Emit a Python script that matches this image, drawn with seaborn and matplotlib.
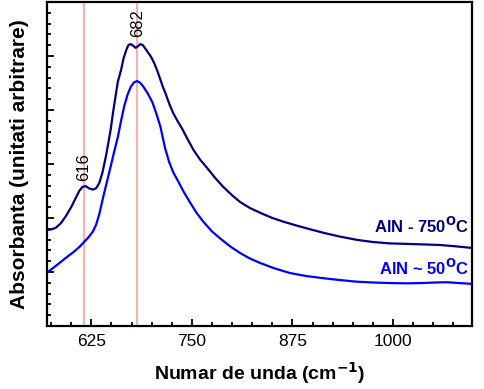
import numpy as np
import pandas as pd
import matplotlib
matplotlib.use("Agg")
import matplotlib.pyplot as plt
from matplotlib.ticker import MultipleLocator, AutoMinorLocator, NullFormatter
import seaborn as sns

# AlN annealed at 750 C (arbitrary units)
wn_750 = [571, 576, 581, 587, 593, 600, 605, 610, 614, 618, 622, 627, 631, 635,
          639, 643, 646, 649, 652, 655, 658, 662, 665, 668, 671, 674, 677, 680,
          683, 686, 689, 692, 695, 699, 703, 707, 711, 714, 717, 722, 727, 732,
          738, 745, 752, 760, 769, 779, 789, 800, 810, 822, 835, 850, 864, 880,
          897, 915, 934, 955, 975, 995, 1017, 1038, 1058, 1078, 1098]
abs_750 = [0.356, 0.358, 0.364, 0.380, 0.405, 0.440, 0.470, 0.500, 0.515, 0.518,
           0.510, 0.505, 0.510, 0.530, 0.570, 0.626, 0.675, 0.726, 0.790, 0.848,
           0.905, 0.948, 0.990, 1.018, 1.040, 1.044, 1.038, 1.030, 1.036, 1.044,
           1.040, 1.028, 1.015, 0.998, 0.975, 0.945, 0.911, 0.885, 0.863, 0.822,
           0.787, 0.760, 0.730, 0.690, 0.652, 0.617, 0.585, 0.548, 0.515, 0.484,
           0.459, 0.437, 0.419, 0.400, 0.386, 0.372, 0.358, 0.344, 0.331, 0.319,
           0.311, 0.306, 0.304, 0.302, 0.300, 0.295, 0.289]

# AlN at ~50 C
wn_50 = [571, 579, 587, 595, 603, 610, 616, 622, 627, 631, 635, 640, 645, 649,
         653, 658, 662, 666, 670, 674, 678, 682, 686, 690, 695, 701, 706, 711,
         714, 717, 722, 727, 732, 740, 748, 756, 764, 775, 786, 798, 810, 822,
         835, 853, 872, 892, 913, 934, 955, 975, 996, 1017, 1037, 1052, 1067,
         1082, 1098]
abs_50 = [0.200, 0.218, 0.237, 0.256, 0.274, 0.292, 0.311, 0.330, 0.350, 0.375,
          0.415, 0.480, 0.541, 0.590, 0.640, 0.700, 0.760, 0.815, 0.856, 0.885,
          0.902, 0.907, 0.900, 0.885, 0.862, 0.828, 0.785, 0.737, 0.695, 0.655,
          0.605, 0.568, 0.541, 0.496, 0.456, 0.418, 0.387, 0.350, 0.322, 0.294,
          0.270, 0.250, 0.233, 0.213, 0.196, 0.185, 0.177, 0.170, 0.164, 0.161,
          0.159, 0.158, 0.159, 0.161, 0.162, 0.159, 0.156]

peaks = [616, 682]
x_ticks = [625, 750, 875, 1000]

df = pd.concat([
    pd.DataFrame({"wn": wn_750, "abs": abs_750, "sample": "750"}),
    pd.DataFrame({"wn": wn_50, "abs": abs_50, "sample": "50"}),
])

sns.set_style("ticks")
plt.rcParams["font.family"] = ["Liberation Sans", "DejaVu Sans"]
plt.rcParams["text.color"] = "black"
plt.rcParams["axes.labelcolor"] = "black"

fig = plt.figure(figsize=(4.85, 3.89), dpi=100)
ax = fig.add_axes([0.097, 0.162, 0.876, 0.833])

for p in peaks:
    ax.axvline(p, color="#ff9e9e", lw=1.2, zorder=1)

sns.lineplot(data=df, x="wn", y="abs", hue="sample", sort=False,
             palette={"750": "#000080", "50": "#0000ff"}, lw=1.6,
             legend=False, ax=ax, zorder=3)

ax.set_xlim(570, 1098)
ax.set_ylim(0, 1.2)
ax.set_xticks(x_ticks)
ax.xaxis.set_minor_locator(AutoMinorLocator(5))
ax.yaxis.set_major_locator(MultipleLocator(0.2))
ax.yaxis.set_minor_locator(AutoMinorLocator(5))
ax.yaxis.set_major_formatter(NullFormatter())
ax.tick_params(which="both", direction="in", width=1.3, colors="black")
ax.tick_params(which="major", length=5, labelsize=12.5, pad=6)
ax.tick_params(which="minor", length=3)
for s in ax.spines.values():
    s.set_linewidth(1.6)
    s.set_color("black")

ax.set_xlabel("Numar de unda (cm$^{\\mathbf{-1}}$)", fontsize=14, fontweight="bold", labelpad=8)
ax.set_ylabel("Absorbanta (unitati arbitrare)", fontsize=15, fontweight="bold", labelpad=7)

ax.text(616, 0.59, "616", rotation=90, ha="center", va="center", fontsize=12)
ax.text(682, 1.12, "682", rotation=90, ha="center", va="center", fontsize=12)

ax.text(1094, 0.372, "AlN - 750$^{\\mathbf{O}}$C", color="#000080", ha="right",
        va="center", fontsize=12, fontweight="bold")
ax.text(1094, 0.215, "AlN ~ 50$^{\\mathbf{O}}$C", color="#0000ff", ha="right",
        va="center", fontsize=12, fontweight="bold")

fig.savefig("out.png", dpi=100)
